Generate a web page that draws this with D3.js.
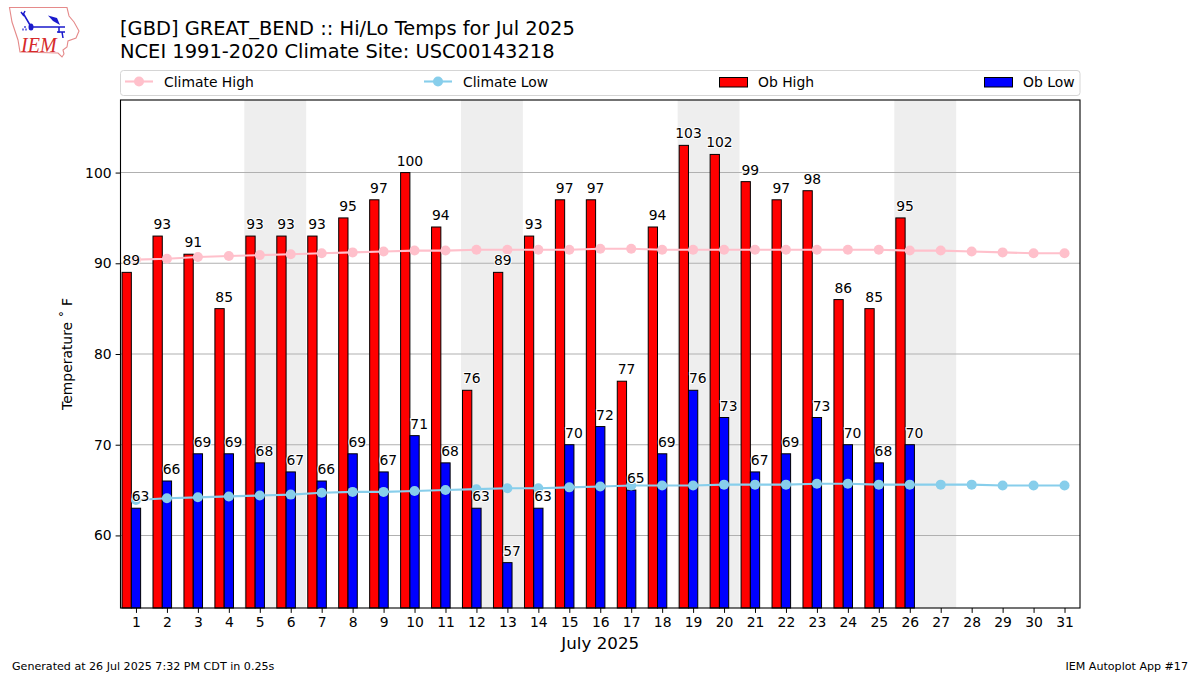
<!DOCTYPE html>
<html>
<head>
<meta charset="utf-8">
<script src="https://cdn.jsdelivr.net/npm/d3@7"></script>
<style>
  html, body { margin: 0; padding: 0; background: #fff; }
  text { font-family: "DejaVu Sans", sans-serif; fill: #000; }
</style>
</head>
<body>
<div id="chart"></div>
<script>
// values
var days = d3.range(1, 32);
var obDays = d3.range(1, 27);
var obHigh = [89, 93, 91, 85, 93, 93, 93, 95, 97, 100, 94, 76, 89, 93, 97, 97, 77, 94, 103, 102, 99, 97, 98, 86, 85, 95];
var obLow = [63, 66, 69, 69, 68, 67, 66, 69, 67, 71, 68, 63, 57, 63, 70, 72, 65, 69, 76, 73, 67, 69, 73, 70, 68, 70];
var climateHigh = [90.4, 90.5, 90.7, 90.8, 90.9, 91.0, 91.1, 91.2, 91.3, 91.4, 91.4, 91.5, 91.5, 91.5, 91.5, 91.6, 91.6, 91.5, 91.5, 91.5, 91.5, 91.5, 91.5, 91.5, 91.5, 91.4, 91.4, 91.3, 91.2, 91.1, 91.1];
var climateLow = [63.9, 64.1, 64.2, 64.3, 64.4, 64.5, 64.7, 64.8, 64.8, 64.9, 65.0, 65.1, 65.2, 65.2, 65.3, 65.4, 65.5, 65.5, 65.5, 65.6, 65.6, 65.6, 65.7, 65.7, 65.6, 65.6, 65.6, 65.6, 65.5, 65.5, 65.5];
var weekends = [[4.5, 6.5], [11.5, 13.5], [18.5, 20.5], [25.5, 27.5]];
var yTicks = [60, 70, 80, 90, 100];
var legendLabels = ["Climate High", "Climate Low", "Ob High", "Ob Low"];
var titleLines = ["[GBD] GREAT_BEND :: Hi/Lo Temps for Jul 2025", "NCEI 1991-2020 Climate Site: USC00143218"];

var margin = {top: 100, right: 120, bottom: 67, left: 120.5},
    width = 1200 - margin.left - margin.right,
    height = 675 - margin.top - margin.bottom;

var svg = d3.select("#chart")
  .append("svg")
  .attr("width", 1200)
  .attr("height", 675)
  .style("display", "block");

var g = svg.append("g")
  .attr("transform", "translate(" + margin.left + "," + margin.top + ")");

var x = d3.scaleLinear().domain([0.5, 31.5]).range([0, width]);
var y = d3.scaleLinear().domain([52, 108]).range([height, 0]);
var barW = x(1.3) - x(1);

// weekend shading
g.selectAll(".weekend")
  .data(weekends)
  .enter().append("rect")
  .attr("x", function(d) { return x(d[0]); })
  .attr("width", function(d) { return x(d[1]) - x(d[0]); })
  .attr("y", 0)
  .attr("height", height)
  .attr("fill", "#eeeeee");

// grid lines
g.selectAll(".grid")
  .data(yTicks)
  .enter().append("line")
  .attr("x1", 0)
  .attr("x2", width)
  .attr("y1", function(d) { return y(d); })
  .attr("y2", function(d) { return y(d); })
  .attr("stroke", "#b0b0b0")
  .attr("stroke-width", 1.1);

// bars
g.selectAll(".high")
  .data(obHigh)
  .enter().append("rect")
  .attr("x", function(d, i) { return x(obDays[i] - 0.45); })
  .attr("y", function(d) { return y(d); })
  .attr("width", barW)
  .attr("height", function(d) { return height - y(d); })
  .attr("fill", "#ff0000")
  .attr("stroke", "#000")
  .attr("stroke-width", 1);

g.selectAll(".low")
  .data(obLow)
  .enter().append("rect")
  .attr("x", function(d, i) { return x(obDays[i] - 0.15); })
  .attr("y", function(d) { return y(d); })
  .attr("width", barW)
  .attr("height", function(d) { return height - y(d); })
  .attr("fill", "#0000ff")
  .attr("stroke", "#000")
  .attr("stroke-width", 1);

// climate lines
function drawClimate(values, color) {
  var line = d3.line()
    .x(function(d, i) { return x(days[i]); })
    .y(function(d) { return y(d); });
  g.append("path")
    .attr("d", line(values))
    .attr("fill", "none")
    .attr("stroke", color)
    .attr("stroke-width", 2.1);
  g.selectAll(".pt")
    .data(values)
    .enter().append("circle")
    .attr("cx", function(d, i) { return x(days[i]); })
    .attr("cy", function(d) { return y(d); })
    .attr("r", 5)
    .attr("fill", color);
}
drawClimate(climateHigh, "#ffc0cb");
drawClimate(climateLow, "#87ceeb");

// value labels, white halo like the original
function drawLabels(values, offset) {
  g.selectAll(".lbl")
    .data(values)
    .enter().append("text")
    .attr("x", function(d, i) { return x(obDays[i] + offset); })
    .attr("y", function(d) { return y(d) - 7; })
    .attr("text-anchor", "middle")
    .attr("font-size", "13.9px")
    .attr("stroke", "#fff")
    .attr("stroke-width", 2)
    .attr("paint-order", "stroke")
    .text(function(d) { return d; });
}
drawLabels(obHigh, -0.15);
drawLabels(obLow, 0.15);

// axes
var xAxis = g.append("g")
  .attr("transform", "translate(0," + height + ")")
  .call(d3.axisBottom(x).tickValues(days).tickFormat(d3.format("d")).tickSize(4.9).tickPadding(4));
var yAxis = g.append("g")
  .call(d3.axisLeft(y).tickValues(yTicks).tickSize(4.9).tickPadding(4));
xAxis.selectAll("text").attr("font-size", "13.9px").attr("font-family", "DejaVu Sans");
yAxis.selectAll("text").attr("font-size", "13.9px").attr("font-family", "DejaVu Sans");
xAxis.select(".domain").remove();
yAxis.select(".domain").remove();

g.append("rect")
  .attr("width", width)
  .attr("height", height)
  .attr("fill", "none")
  .attr("stroke", "#000")
  .attr("stroke-width", 1.1);

g.append("text")
  .attr("x", width / 2)
  .attr("y", height + 41)
  .attr("text-anchor", "middle")
  .attr("font-size", "16.7px")
  .text("July 2025");

g.append("text")
  .attr("transform", "translate(-49," + (height / 2) + ") rotate(-90)")
  .attr("text-anchor", "middle")
  .attr("font-size", "13.9px")
  .text("Temperature \u02DA F");

// title
svg.selectAll(".title")
  .data(titleLines)
  .enter().append("text")
  .attr("x", 120)
  .attr("y", function(d, i) { return 34.5 + i * 23; })
  .attr("font-size", "19.45px")
  .text(function(d) { return d; });

// legend
var legend = svg.append("g");
legend.append("rect")
  .attr("x", 120.5)
  .attr("y", 70.5)
  .attr("width", 959.5)
  .attr("height", 25)
  .attr("rx", 3)
  .attr("fill", "#fff")
  .attr("stroke", "#d5d5d5")
  .attr("stroke-width", 1);

var legendX = [125, 424, 719, 984];
var legendColors = ["#ffc0cb", "#87ceeb", "#ff0000", "#0000ff"];
legendLabels.forEach(function(label, i) {
  var hx = legendX[i];
  if (i < 2) {
    legend.append("line")
      .attr("x1", hx).attr("x2", hx + 28)
      .attr("y1", 81.5).attr("y2", 81.5)
      .attr("stroke", legendColors[i])
      .attr("stroke-width", 2.1);
    legend.append("circle")
      .attr("cx", hx + 14).attr("cy", 81.5).attr("r", 5)
      .attr("fill", legendColors[i]);
  } else {
    legend.append("rect")
      .attr("x", hx + 0.5).attr("y", 77.5)
      .attr("width", 28).attr("height", 9.5)
      .attr("fill", legendColors[i])
      .attr("stroke", "#000")
      .attr("stroke-width", 1);
  }
  legend.append("text")
    .attr("x", hx + 39)
    .attr("y", 86.5)
    .attr("font-size", "13.9px")
    .text(label);
});

// footer
svg.append("text")
  .attr("x", 12)
  .attr("y", 670)
  .attr("font-size", "11.1px")
  .text("Generated at 26 Jul 2025 7:32 PM CDT in 0.25s");
svg.append("text")
  .attr("x", 1188)
  .attr("y", 670)
  .attr("text-anchor", "end")
  .attr("font-size", "11.1px")
  .text("IEM Autoplot App #17");

// IEM logo
var logo = svg.append("g");
logo.append("path")
  .attr("d", "M9.5 7.5 L67 7.5 L69 16 L74 22 L79 31 L76 38 L68 41 L67 47 L63 50 L64 54 L62 57 L58 53 L20 52 L18 40 L12 22 Z")
  .attr("fill", "#fff")
  .attr("stroke", "#e58a8a")
  .attr("stroke-width", 1.1);
logo.append("path")
  .attr("d", "M31 27 L65 27 M23 13 L30 25 M21 12 L24 16 M25 11 L23 15 M59 27 L59 33 M57 32 L65 32 M62 32 L63 38")
  .attr("fill", "none")
  .attr("stroke", "#1a1acc")
  .attr("stroke-width", 1.5);
logo.append("path")
  .attr("d", "M48 15.5 L57 18 L60 25 L53 21 Z")
  .attr("fill", "#1a1acc");
logo.append("ellipse")
  .attr("cx", 31).attr("cy", 27).attr("rx", 2.5).attr("ry", 3.5)
  .attr("fill", "#1a1acc");
logo.append("path")
  .attr("d", "M25 26 L25 28 M23 28.5 L23 30.5 M26 28.5 L26 30.5")
  .attr("stroke", "#1a1acc")
  .attr("stroke-width", 1.2);
logo.append("text")
  .attr("x", 21)
  .attr("y", 52)
  .attr("font-style", "italic")
  .attr("font-size", "20px")
  .style("font-family", "Liberation Serif")
  .style("fill", "#d62a2a")
  .text("IEM");
</script>
</body>
</html>
